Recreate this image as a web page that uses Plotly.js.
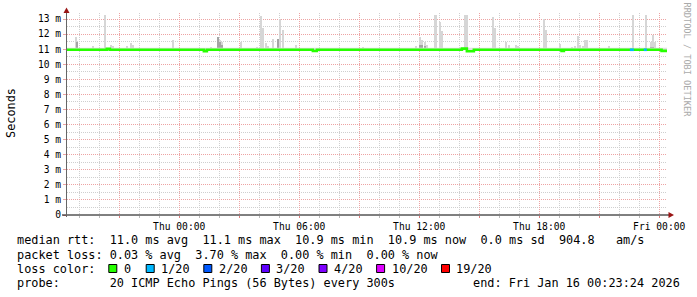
<!DOCTYPE html>
<html><head><meta charset="utf-8">
<script src="https://cdn.plot.ly/plotly-3.0.1.min.js"></script>
<style>html,body{margin:0;padding:0;background:#fff;} #chart{width:697px;height:297px;}</style>
</head><body><div id="chart"></div>
<script>
// ---- data ----
const startTime = '2026-01-14 18:23:24';
const endTime = '2026-01-16 00:23:24';

const xTickVals = ['2026-01-14 21:00','2026-01-15 00:00','2026-01-15 03:00','2026-01-15 06:00','2026-01-15 09:00','2026-01-15 12:00','2026-01-15 15:00','2026-01-15 18:00','2026-01-15 21:00','2026-01-16 00:00'];
const xTickText = ['','Thu 00:00','','Thu 06:00','','Thu 12:00','','Thu 18:00','','Fri 00:00'];
const yTickVals = [0,1,2,3,4,5,6,7,8,9,10,11,12,13];
const yTickText = ['0','1 m','2 m','3 m','4 m','5 m','6 m','7 m','8 m','9 m','10 m','11 m','12 m','13 m'];

// background smoke band (ms)
const bandTimes = [startTime, endTime];
const bandLowMs = [10.93, 10.93];
const bandHighMs = [11.1, 11.1];

// light smoke spikes: time and top (ms)
const smokeBaseMs = 10.93;
const smokeTimes = ['2026-01-14 18:50','2026-01-14 19:41','2026-01-14 20:17','2026-01-14 20:35','2026-01-14 20:41','2026-01-14 21:23','2026-01-14 21:35','2026-01-14 21:41','2026-01-14 22:02','2026-01-14 23:41','2026-01-15 00:26','2026-01-15 01:35','2026-01-15 01:56','2026-01-15 02:02','2026-01-15 02:08','2026-01-15 03:05','2026-01-15 03:53','2026-01-15 04:05','2026-01-15 04:10','2026-01-15 04:20','2026-01-15 04:26','2026-01-15 04:41','2026-01-15 04:56','2026-01-15 05:02','2026-01-15 05:11','2026-01-15 05:50','2026-01-15 06:47','2026-01-15 07:08','2026-01-15 09:11','2026-01-15 11:50','2026-01-15 12:02','2026-01-15 12:08','2026-01-15 12:17','2026-01-15 12:23','2026-01-15 12:49','2026-01-15 13:02','2026-01-15 13:08','2026-01-15 14:17','2026-01-15 14:23','2026-01-15 15:41','2026-01-15 15:47','2026-01-15 16:20','2026-01-15 16:29','2026-01-15 16:50','2026-01-15 16:56','2026-01-15 18:14','2026-01-15 18:20','2026-01-15 19:02','2026-01-15 19:26','2026-01-15 19:38','2026-01-15 19:47','2026-01-15 19:56','2026-01-15 20:02','2026-01-15 20:11','2026-01-15 20:17','2026-01-15 20:23','2026-01-15 21:29','2026-01-15 22:41','2026-01-15 23:20','2026-01-15 23:35','2026-01-15 23:41','2026-01-15 23:47','2026-01-15 23:59'];
const smokeMaxMs = [11.82,11.2,13.26,11.27,11.2,11.2,11.38,11.3,11.1,11.6,11.1,11.15,11.82,11.6,11.5,11.45,11.15,13.2,12.38,11.38,11.2,11.65,11.65,13.0,12.27,11.3,11.1,11.1,11.15,11.2,11.82,11.6,11.5,11.3,13.26,12.82,12.2,13.26,13.26,13.15,12.38,11.45,11.3,11.3,11.2,12.98,12.27,11.35,11.1,11.15,11.2,11.87,11.3,11.2,11.6,11.6,11.2,13.26,13.26,11.45,11.93,11.45,11.1];

// darker (inner) smoke
const darkTimes = ['2026-01-14 18:53','2026-01-14 20:20','2026-01-15 01:56','2026-01-15 02:02','2026-01-15 02:08','2026-01-15 04:56','2026-01-15 12:02','2026-01-15 12:08','2026-01-15 12:17','2026-01-15 23:35','2026-01-15 23:41'];
const darkMaxMs = [11.45,11.1,11.8,11.45,11.3,11.65,11.3,11.25,11.2,11.15,11.15];

// median rtt (step line)
const medianTimes = ['2026-01-14 18:23:24','2026-01-14 20:23','2026-01-14 20:32','2026-01-15 01:14','2026-01-15 01:23','2026-01-15 06:41','2026-01-15 06:53','2026-01-15 14:08','2026-01-15 14:23','2026-01-15 14:44','2026-01-15 19:07','2026-01-15 19:14','2026-01-16 00:07','2026-01-16 00:23:24'];
const medianMs = [10.96,11.02,10.96,10.87,10.96,10.88,10.96,11.04,10.86,10.96,10.88,10.96,10.89,10.89];

// packet loss events (count of 20)
const lossStart = ['2026-01-15 22:32','2026-01-15 23:14'];
const lossEnd = ['2026-01-15 22:44','2026-01-15 23:23'];
const lossCount = [1, 1];
const lossMedianMs = [10.96, 10.96];

// legend
const lossLabels = ['0','1/20','2/20','3/20','4/20','10/20','19/20'];
const lossLevels = [0,1,2,3,4,10,19];
const lossColors = ['#26ff00','#00b8ff','#0059ff','#5e00ff','#7e00ff','#dd00ff','#ff0000'];
const legendLines = [
  'median rtt:  11.0 ms avg  11.1 ms max  10.9 ms min  10.9 ms now  0.0 ms sd  904.8   am/s',
  'packet loss: 0.03 % avg  3.70 % max  0.00 % min  0.00 % now',
  'loss color:',
  'probe:       20 ICMP Echo Pings (56 Bytes) every 300s'
];
const endText = 'end: Fri Jan 16 00:23:24 2026';

// ---- layout helpers (pixel -> paper) ----
const L = 67, T = 13, W = 600, H = 202;
const PX = p => (p - L) / W;
const PY = p => (T + H - p) / H;
const MONO = 'DejaVu Sans Mono';
const nb = s => s.replace(/ /g, '\u00a0');
const colorFor = n => lossColors[lossLevels.indexOf(n)];
const FS = 11.85;

const traces = [];
traces.push({type:'scatter', mode:'lines', x: bandTimes, y: bandLowMs, line:{width:0, color:'rgba(0,0,0,0)'}, hoverinfo:'skip'});
traces.push({type:'scatter', mode:'lines', x: bandTimes, y: bandHighMs, fill:'tonexty', fillcolor:'#e0e0e0', line:{width:0, color:'rgba(0,0,0,0)'}, hoverinfo:'skip'});
traces.push({type:'bar', x: smokeTimes, y: smokeMaxMs.map(v => v - smokeBaseMs), base: smokeBaseMs, width: 470000, marker:{color:'#d6d6d6', line:{width:0}}, hoverinfo:'skip'});
traces.push({type:'bar', x: darkTimes, y: darkMaxMs.map(v => v - smokeBaseMs), base: smokeBaseMs, width: 420000, marker:{color:'#a4a4a4', line:{width:0}}, hoverinfo:'skip'});
traces.push({type:'scatter', mode:'lines', x: medianTimes, y: medianMs, line:{shape:'hv', width:2.6, color: colorFor(0)}, hoverinfo:'skip'});
lossStart.forEach((s, i) => {
  traces.push({type:'scatter', mode:'lines', x:[s, lossEnd[i]], y:[lossMedianMs[i], lossMedianMs[i]], line:{width:2.6, color: colorFor(lossCount[i])}, hoverinfo:'skip'});
});

const annotations = [];
const legendMid = [240.5, 254.7, 268.8, 283];
legendLines.forEach((t, i) => {
  annotations.push({xref:'paper', yref:'paper', x: PX(16), y: PY(legendMid[i]), xanchor:'left', yanchor:'middle', showarrow:false, text: nb(t), font:{family:MONO, size:FS, color:'#000'}, borderpad:0});
});
annotations.push({xref:'paper', yref:'paper', x: PX(681), y: PY(legendMid[3]), xanchor:'right', yanchor:'middle', showarrow:false, text: nb(endText), font:{family:MONO, size:FS, color:'#000'}, borderpad:0});
const boxX = [108.3, 145.7, 203.3, 260.9, 318.5, 376.1, 441];
const shapes = [];
lossLabels.forEach((lab, i) => {
  shapes.push({type:'rect', xref:'paper', yref:'paper', x0: PX(boxX[i] + 0.5), x1: PX(boxX[i] + 8.5), y0: PY(264.5), y1: PY(272.5), fillcolor: lossColors[i], line:{color:'#000', width:1}});
  annotations.push({xref:'paper', yref:'paper', x: PX(boxX[i] + 14.4), y: PY(legendMid[2]), xanchor:'left', yanchor:'middle', showarrow:false, text: nb(lab), font:{family:MONO, size:FS, color:'#000'}, borderpad:0});
});
annotations.push({xref:'paper', yref:'paper', x: PX(11), y: PY(113), xanchor:'center', yanchor:'middle', showarrow:false, textangle:-90, text:'Seconds', font:{family:MONO, size:FS, color:'#000'}, borderpad:0});
annotations.push({xref:'paper', yref:'paper', x: PX(686.5), y: PY(60), xanchor:'center', yanchor:'middle', showarrow:false, textangle:90, text: nb('RRDTOOL / TOBI OETIKER'), font:{family:MONO, size:8.6, color:'#aaaaaa'}, borderpad:0});

// axis extensions and arrows
shapes.push({type:'line', xref:'paper', yref:'paper', x0: PX(62), x1: PX(669), y0: PY(215), y1: PY(215), line:{color:'#000', width:1}});
shapes.push({type:'line', xref:'paper', yref:'paper', x0: PX(66.5), x1: PX(66.5), y0: PY(217), y1: PY(10), line:{color:'#666', width:1}});
shapes.push({type:'path', xref:'paper', yref:'paper', path:`M ${PX(674)} ${PY(215)} L ${PX(668.5)} ${PY(212)} L ${PX(668.5)} ${PY(218)} Z`, fillcolor:'#9a1515', line:{width:0}});
shapes.push({type:'path', xref:'paper', yref:'paper', path:`M ${PX(66.5)} ${PY(7.5)} L ${PX(63.5)} ${PY(13)} L ${PX(69.5)} ${PY(13)} Z`, fillcolor:'#9a1515', line:{width:0}});

const layout = {
  width: 697, height: 297,
  margin: {l: L, r: 697 - L - W, t: T, b: 297 - T - H, pad: 0},
  paper_bgcolor: '#ffffff', plot_bgcolor: '#ffffff',
  showlegend: false, barmode: 'overlay', bargap: 0,
  xaxis: {
    type: 'date', range: [startTime, endTime], fixedrange: true,
    tickmode: 'array', tickvals: xTickVals, ticktext: xTickText,
    showgrid: true, gridcolor: '#eda3a3', griddash: '1px,1px', gridwidth: 1,
    zeroline: false, showline: false,
    ticks: 'outside', ticklen: 2, tickcolor: '#e08080',
    tickfont: {family: MONO, size: 9.65, color: '#000'},
    minor: {tickmode: 'linear', tick0: '2026-01-15 00:00', dtick: 3600000, showgrid: true, gridcolor: '#cfcfcf', griddash: '1px,1px', ticks: 'outside', ticklen: 2, tickcolor: '#bbbbbb'}
  },
  yaxis: {
    range: [0, 13.4], fixedrange: true,
    tickmode: 'array', tickvals: yTickVals, ticktext: yTickText,
    showgrid: true, gridcolor: '#eda3a3', griddash: '1px,1px', gridwidth: 1,
    zeroline: false, showline: false,
    ticks: 'outside', ticklen: 3, tickcolor: '#eda3a3',
    tickfont: {family: MONO, size: 9.65, color: '#000'},
    minor: {tickmode: 'linear', tick0: 0, dtick: 0.5, showgrid: true, gridcolor: '#cfcfcf', griddash: '1px,1px', ticks: ''}
  },
  shapes: shapes,
  annotations: annotations
};

Plotly.newPlot('chart', traces, layout, {staticPlot: true, displayModeBar: false});
</script></body></html>
